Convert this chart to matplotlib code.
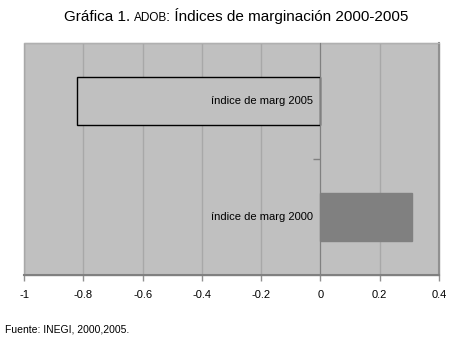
import matplotlib
matplotlib.use("Agg")
import matplotlib.pyplot as plt
from matplotlib.patches import Rectangle

# datos
categorias = ["índice de marg 2000", "índice de marg 2005"]
valores = [0.31, -0.82]
xticks = [-1, -0.8, -0.6, -0.4, -0.2, 0, 0.2, 0.4]
xlabels = ["-1", "-0.8", "-0.6", "-0.4", "-0.2", "0", "0.2", "0.4"]

plt.rcParams["font.family"] = ["Liberation Sans", "DejaVu Sans"]

fig = plt.figure(figsize=(4.53, 3.39), dpi=100)
ax = fig.add_axes([24 / 453, 1 - 275 / 339, 415 / 453, 232 / 339])
ax.set_facecolor("#c0c0c0")

pos = list(range(len(categorias)))
colores = ["#808080", "#c0c0c0"]
bordes = ["#808080", "black"]
ax.barh(pos, valores, height=0.42, color=colores, edgecolor=bordes, linewidth=1, zorder=3)

# etiquetas de las barras, a la izquierda del eje 0
for p, c in zip(pos, categorias):
    ax.text(-0.025, p, c, ha="right", va="center", fontsize=8, zorder=4)

ax.set_xlim(-1, 0.4)
ax.set_ylim(-0.5, 1.5)
ax.set_xticks(xticks)
ax.set_xticklabels(xlabels, fontsize=8)
ax.tick_params(axis="x", direction="out", length=4, width=1, color="#909090", pad=7)
ax.grid(axis="x", color="#a8a8a8", linewidth=1, zorder=0)

# eje de categorias en x=0
ax.spines["left"].set_position(("data", 0))
ax.spines["left"].set_color("#808080")
ax.spines["left"].set_zorder(3.5)
ax.set_yticks([0.5])
ax.set_yticklabels([""])
ax.tick_params(axis="y", direction="out", length=5, width=1, color="#808080")

ax.spines["bottom"].set_color("#808080")
ax.spines["bottom"].set_linewidth(1.5)
ax.spines["right"].set_color("#909090")
ax.spines["right"].set_linewidth(1.5)
ax.spines["top"].set_color("#b0b0b0")
ax.add_patch(Rectangle((0, 0), 1, 1, transform=ax.transAxes, fill=False,
                       edgecolor="#a0a0a0", linewidth=1, zorder=0.5, clip_on=False))

# titulo con "ADOB" en letra pequena
partes = [("Gráfica 1. ", 11), ("ADOB", 8.5), (": Índices de marginación 2000-2005", 11)]
fig.canvas.draw()
r = fig.canvas.get_renderer()
textos = []
for s, fs in partes:
    textos.append(fig.text(0, 1 - 21 / 339, s, fontsize=fs, va="baseline"))
anchos = [t.get_window_extent(r).width for t in textos]
anchos[1] -= 1.5
x0 = (236 - sum(anchos) / 2) / 453
for t, w in zip(textos, anchos):
    t.set_x(x0)
    x0 += w / 453

fig.text(5 / 453, 1 - 332 / 339, "Fuente: INEGI, 2000,2005.", fontsize=7.5)

fig.savefig("out.png", dpi=100)
